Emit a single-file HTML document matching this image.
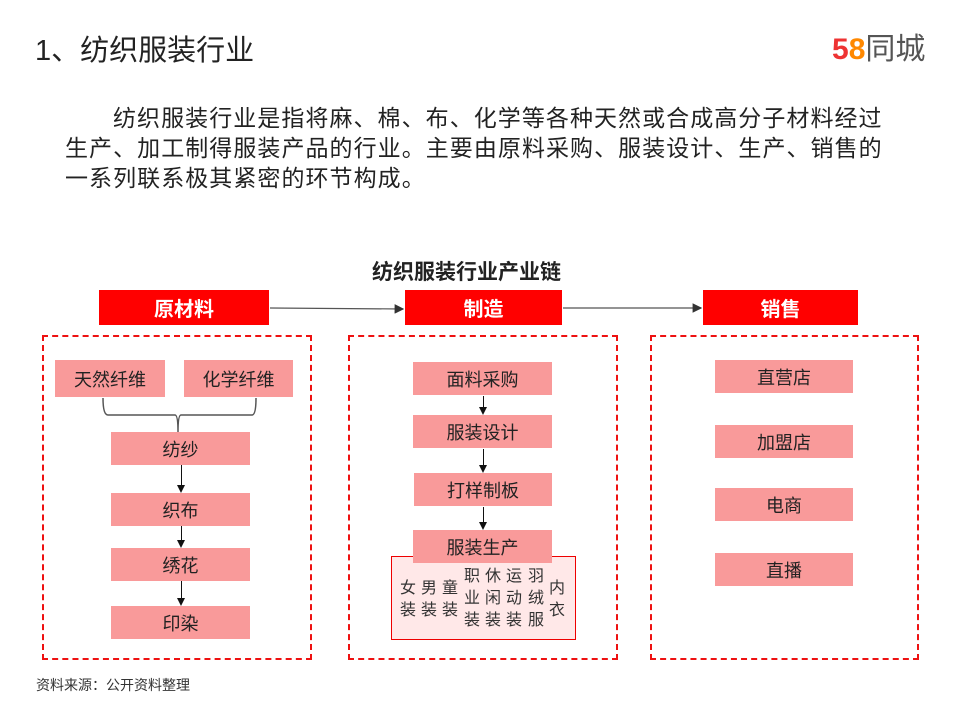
<!DOCTYPE html>
<html><head><meta charset="utf-8"><style>
body{margin:0;width:960px;height:720px;background:#fff;position:relative;overflow:hidden;font-family:"Liberation Sans","Noto Sans CJK SC",sans-serif;color:#222}
.a{position:absolute}
.t{white-space:nowrap}
.hd{position:absolute;background:#ff0000;color:#fff;font-size:20px;font-weight:bold;display:flex;align-items:center;justify-content:center}
.b{position:absolute;background:#f99a9a;color:#222;font-size:18px;display:flex;align-items:center;justify-content:center}
.dash{position:absolute;border:2px dashed #ee1111;box-sizing:border-box}
.p{position:absolute;font-size:23px;letter-spacing:1.05px;white-space:nowrap;color:#222}
.vl{position:absolute;width:1px;background:#111}
.ar{position:absolute;width:0;height:0;border-left:4px solid transparent;border-right:4px solid transparent;border-top:8px solid #111}
.col{position:absolute;font-size:16px;line-height:22px;width:18px;text-align:center;color:#333}
</style></head><body>
<div class="a t" style="left:35px;top:27px;font-size:29px;">1、纺织服装行业</div>
<div class="a t" style="left:832px;top:24px;font-size:30px;font-weight:bold;"><span style="color:#e33">5</span><span style="color:#f80">8</span><span style="color:#555;font-weight:normal">同城</span></div>
<div class="p" style="left:113px;top:99px;">纺织服装行业是指将麻、棉、布、化学等各种天然或合成高分子材料经过</div>
<div class="p" style="left:65px;top:129px;">生产、加工制得服装产品的行业。主要由原料采购、服装设计、生产、销售的</div>
<div class="p" style="left:65px;top:159px;">一系列联系极其紧密的环节构成。</div>
<div class="a t" style="left:372px;top:256px;font-size:21px;font-weight:bold;color:#222">纺织服装行业产业链</div>

<div class="hd" style="left:99px;top:290px;width:170px;height:35px;">原材料</div>
<div class="hd" style="left:405px;top:290px;width:157px;height:35px;">制造</div>
<div class="hd" style="left:703px;top:290px;width:155px;height:35px;">销售</div>
<svg class="a" style="left:0;top:0" width="960" height="720">
<defs><marker id="m" markerWidth="8" markerHeight="8" refX="7" refY="4" orient="auto"><path d="M0,0L8,4L0,8z" fill="#333"/></marker></defs>
<line x1="270" y1="308" x2="403" y2="309" stroke="#555" stroke-width="1.2" marker-end="url(#m)"/>
<line x1="563" y1="308" x2="701" y2="308" stroke="#555" stroke-width="1.2" marker-end="url(#m)"/>
<path d="M103,398 Q103,415 108,415 L175,415 Q178,415 178,432 Q178,415 181,415 L252,415 Q256,415 256,398" fill="none" stroke="#555" stroke-width="1.5"/>
</svg>

<div class="dash" style="left:42px;top:335px;width:270px;height:325px;"></div>
<div class="dash" style="left:348px;top:335px;width:270px;height:325px;"></div>
<div class="dash" style="left:650px;top:335px;width:269px;height:325px;"></div>

<div class="b" style="left:55px;top:360px;width:110px;height:37px;">天然纤维</div>
<div class="b" style="left:184px;top:360px;width:109px;height:37px;">化学纤维</div>
<div class="b" style="left:111px;top:432px;width:139px;height:33px;">纺纱</div>
<div class="b" style="left:111px;top:493px;width:139px;height:33px;">织布</div>
<div class="b" style="left:111px;top:548px;width:139px;height:33px;">绣花</div>
<div class="b" style="left:111px;top:606px;width:139px;height:33px;">印染</div>
<div class="vl" style="left:181px;top:465px;height:21px"></div><div class="ar" style="left:177px;top:485px"></div>
<div class="vl" style="left:181px;top:526px;height:14px"></div><div class="ar" style="left:177px;top:540px"></div>
<div class="vl" style="left:181px;top:581px;height:17px"></div><div class="ar" style="left:177px;top:598px"></div>

<div class="a" style="left:391px;top:556px;width:185px;height:84px;background:#ffe8e8;border:1px solid #e00;box-sizing:border-box"></div>
<div class="b" style="left:413px;top:362px;width:139px;height:33px;">面料采购</div>
<div class="b" style="left:413px;top:415px;width:139px;height:33px;">服装设计</div>
<div class="b" style="left:414px;top:473px;width:138px;height:33px;">打样制板</div>
<div class="b" style="left:413px;top:530px;width:139px;height:33px;">服装生产</div>
<div class="vl" style="left:483px;top:396px;height:11px"></div><div class="ar" style="left:479px;top:407px"></div>
<div class="vl" style="left:483px;top:449px;height:16px"></div><div class="ar" style="left:479px;top:465px"></div>
<div class="vl" style="left:483px;top:507px;height:15px"></div><div class="ar" style="left:479px;top:522px"></div>
<div class="col" style="left:399px;top:578px">女<br>装</div>
<div class="col" style="left:420px;top:578px">男<br>装</div>
<div class="col" style="left:441px;top:578px">童<br>装</div>
<div class="col" style="left:463px;top:566px">职<br>业<br>装</div>
<div class="col" style="left:484px;top:566px">休<br>闲<br>装</div>
<div class="col" style="left:505px;top:566px">运<br>动<br>装</div>
<div class="col" style="left:527px;top:566px">羽<br>绒<br>服</div>
<div class="col" style="left:548px;top:578px">内<br>衣</div>

<div class="b" style="left:715px;top:360px;width:138px;height:33px;">直营店</div>
<div class="b" style="left:715px;top:425px;width:138px;height:33px;">加盟店</div>
<div class="b" style="left:715px;top:488px;width:138px;height:33px;">电商</div>
<div class="b" style="left:715px;top:553px;width:138px;height:33px;">直播</div>

<div class="a t" style="left:36px;top:675px;font-size:14px;color:#333">资料来源：公开资料整理</div>
</body></html>
